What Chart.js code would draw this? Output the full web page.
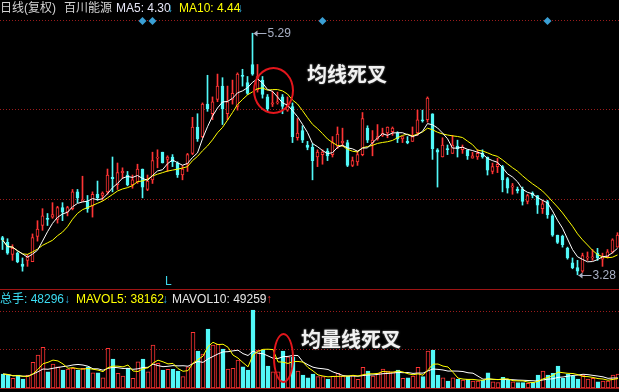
<!DOCTYPE html>
<html>
<head>
<meta charset="utf-8">
<script src="https://cdn.jsdelivr.net/npm/chart.js@4.4.1/dist/chart.umd.min.js"></script>
<style>
  html, body { margin: 0; padding: 0; background: #000; }
  #wrap { position: relative; width: 619px; height: 392px; overflow: hidden; background: #000;
          font-family: "Liberation Sans", "Noto Sans CJK SC", sans-serif; }
  canvas { position: absolute; left: 0; }
  .t { position: absolute; font-size: 12px; line-height: 14px; white-space: nowrap; }
  .note { position: absolute; font-family: "Noto Sans CJK SC", sans-serif; font-weight: bold;
          font-size: 20px; line-height: 24px; color: #f2f2f2; text-shadow: 0 0 2px #8a8a8a; white-space: nowrap; }
  .ring { position: absolute; box-sizing: border-box; border: 2px solid #e3161c; border-radius: 50%; }
</style>
</head>
<body>
<div id="wrap">
  <canvas id="main" width="620" height="290" style="top:0"></canvas>
  <canvas id="vol" width="621" height="102" style="top:290px"></canvas>

  <div class="t" style="left:0;top:1px;color:#d4d4d4">日线(复权)</div>
  <div class="t" style="left:64px;top:1px;color:#d4d4d4">百川能源</div>
  <div class="t" style="left:116px;top:1px;color:#e6e6f6">MA5: 4.30</div>
  <div class="t" style="left:167px;top:1px;color:#2aa6d6">↓</div>
  <div class="t" style="left:179px;top:1px;color:#ffff00">MA10: 4.44</div>
  <div class="t" style="left:237px;top:1px;color:#2aa6d6">↓</div>

  <div class="t" style="left:0;top:292px;color:#3cdcf2">总手: 48296</div>
  <div class="t" style="left:64px;top:292px;color:#2aa6d6">↓</div>
  <div class="t" style="left:76px;top:292px;color:#ffff00">MAVOL5: 38162</div>
  <div class="t" style="left:162px;top:292px;color:#2aa6d6">↓</div>
  <div class="t" style="left:172px;top:292px;color:#e6e6e6">MAVOL10: 49259</div>
  <div class="t" style="left:266px;top:292px;color:#e82020">↑</div>

  <div class="t" style="left:165px;top:274px;color:#3cd6ea">L</div>

  <div class="note" style="left:307px;top:62px">均线死叉</div>
  <div class="note" style="left:301px;top:327px">均量线死叉</div>
  <div class="ring" style="left:253px;top:67px;width:41px;height:47px"></div>
  <div class="ring" style="left:273px;top:333px;width:21px;height:50px"></div>
</div>

<script>
// daily candles, oldest first
const opens = [
  3.59, 3.55, 3.45, 3.46, 3.37, 3.40, 3.39, 3.60, 3.69, 3.75,
  3.76, 3.74, 3.84, 3.80, 3.83, 3.97, 3.89, 3.89, 3.85, 3.95,
  3.94, 3.97, 4.09, 4.03, 4.13, 4.11, 4.03, 4.05, 4.16, 3.99,
  4.07, 4.25, 4.30, 4.24, 4.26, 4.21, 4.11, 4.20, 4.29, 4.51,
  4.43, 4.70, 4.62, 4.74, 4.85, 4.62, 4.74, 4.68, 4.94, 4.88,
  5.03, 4.82, 4.90, 4.76, 4.70, 4.71, 4.76, 4.65, 4.68, 4.42,
  4.48, 4.36, 4.34, 4.26, 4.28, 4.31, 4.28, 4.35, 4.38, 4.38,
  4.19, 4.22, 4.28, 4.50, 4.38, 4.41, 4.44, 4.46, 4.47, 4.46,
  4.41, 4.39, 4.39, 4.46, 4.57, 4.57, 4.62, 4.32, 4.26, 4.33,
  4.29, 4.35, 4.32, 4.32, 4.25, 4.26, 4.29, 4.26, 4.14, 4.18,
  4.18, 4.08, 4.01, 3.99, 3.99, 3.89, 3.96, 3.94, 3.83, 3.89,
  3.77, 3.61, 3.60, 3.50, 3.38, 3.34, 3.31, 3.42, 3.42, 3.46,
  3.41, 3.43, 3.47, 3.51
];
const highs = [
  3.60, 3.58, 3.53, 3.47, 3.42, 3.45, 3.62, 3.73, 3.83, 3.79,
  3.88, 3.85, 3.88, 3.85, 3.99, 3.99, 4.10, 3.94, 3.97, 4.06,
  3.97, 4.16, 4.26, 4.21, 4.17, 4.14, 4.11, 4.20, 4.16, 4.11,
  4.30, 4.32, 4.30, 4.27, 4.28, 4.22, 4.19, 4.29, 4.59, 4.62,
  4.71, 4.94, 4.76, 4.95, 4.92, 4.85, 4.90, 4.96, 4.99, 4.93,
  5.29, 5.03, 4.93, 4.78, 4.81, 4.80, 4.78, 4.76, 4.71, 4.58,
  4.52, 4.39, 4.37, 4.32, 4.32, 4.33, 4.43, 4.51, 4.50, 4.40,
  4.26, 4.31, 4.63, 4.52, 4.48, 4.53, 4.50, 4.51, 4.51, 4.47,
  4.43, 4.43, 4.51, 4.65, 4.65, 4.76, 4.62, 4.33, 4.42, 4.36,
  4.44, 4.40, 4.36, 4.32, 4.30, 4.32, 4.32, 4.26, 4.21, 4.25,
  4.19, 4.09, 4.04, 4.01, 4.01, 3.95, 3.97, 3.94, 3.90, 3.90,
  3.78, 3.61, 3.61, 3.51, 3.42, 3.40, 3.46, 3.47, 3.49, 3.50,
  3.46, 3.49, 3.58, 3.63
];
const lows = [
  3.49, 3.45, 3.40, 3.38, 3.31, 3.35, 3.39, 3.56, 3.65, 3.69,
  3.75, 3.71, 3.73, 3.77, 3.82, 3.88, 3.89, 3.80, 3.76, 3.90,
  3.90, 3.95, 3.97, 3.99, 4.08, 4.02, 4.00, 4.04, 3.92, 3.98,
  4.04, 4.17, 4.21, 4.14, 4.18, 4.09, 4.07, 4.14, 4.28, 4.39,
  4.42, 4.64, 4.57, 4.72, 4.53, 4.57, 4.70, 4.65, 4.85, 4.78,
  4.94, 4.80, 4.75, 4.64, 4.68, 4.70, 4.62, 4.64, 4.38, 4.40,
  4.38, 4.32, 4.07, 4.18, 4.20, 4.23, 4.26, 4.33, 4.35, 4.18,
  4.18, 4.19, 4.27, 4.38, 4.27, 4.40, 4.43, 4.42, 4.44, 4.38,
  4.38, 4.37, 4.39, 4.44, 4.55, 4.55, 4.24, 4.01, 4.26, 4.28,
  4.29, 4.26, 4.29, 4.24, 4.25, 4.24, 4.25, 4.11, 4.12, 4.13,
  3.97, 3.96, 3.95, 3.96, 3.86, 3.87, 3.92, 3.79, 3.79, 3.75,
  3.60, 3.54, 3.51, 3.41, 3.33, 3.28, 3.30, 3.40, 3.40, 3.40,
  3.35, 3.42, 3.46, 3.51
];
const closes = [
  3.57, 3.46, 3.50, 3.39, 3.35, 3.43, 3.59, 3.66, 3.77, 3.74,
  3.78, 3.84, 3.80, 3.84, 3.97, 3.92, 3.90, 3.83, 3.95, 3.92,
  3.96, 4.11, 4.08, 4.13, 4.14, 4.03, 4.07, 4.16, 4.01, 4.06,
  4.23, 4.26, 4.21, 4.26, 4.22, 4.11, 4.16, 4.28, 4.51, 4.41,
  4.70, 4.66, 4.72, 4.85, 4.66, 4.72, 4.79, 4.95, 4.93, 4.79,
  4.95, 4.93, 4.78, 4.66, 4.71, 4.72, 4.68, 4.69, 4.43, 4.46,
  4.40, 4.34, 4.23, 4.30, 4.30, 4.27, 4.38, 4.45, 4.39, 4.19,
  4.23, 4.28, 4.58, 4.40, 4.40, 4.43, 4.46, 4.51, 4.50, 4.41,
  4.43, 4.38, 4.43, 4.57, 4.56, 4.75, 4.33, 4.30, 4.36, 4.32,
  4.36, 4.33, 4.34, 4.27, 4.27, 4.29, 4.26, 4.15, 4.18, 4.20,
  4.07, 4.00, 4.02, 3.98, 3.89, 3.94, 3.94, 3.86, 3.87, 3.78,
  3.61, 3.55, 3.53, 3.42, 3.34, 3.31, 3.44, 3.43, 3.43, 3.42,
  3.43, 3.47, 3.57, 3.61
];
// 总手
const volumes = [
  48300, 44850, 33500, 44850, 31050, 44850, 88700, 113850, 140400, 56200,
  82800, 73500, 62100, 65550, 68000, 62100, 68000, 73500, 52800, 52800,
  35500, 137000, 100000, 50700, 41400, 68000, 33500, 90700, 100000, 56200,
  148350, 85200, 62100, 64500, 64500, 58650, 39000, 73500, 192200, 127650,
  117300, 203550, 148350, 151800, 134550, 65550, 68000, 96600, 73500, 62100,
  269100, 131100, 131100, 75900, 56200, 56200, 127650, 108000, 108000, 58650,
  44850, 35000, 48300, 39000, 39000, 31050, 41400, 50700, 41400, 41400,
  43800, 30000, 71400, 58650, 41400, 50700, 65550, 58650, 56200, 62100,
  33500, 35500, 41400, 71400, 39000, 127650, 131100, 44850, 35500, 24150,
  35500, 31050, 27600, 30000, 24150, 24150, 27600, 52800, 21700, 18300,
  36900, 27600, 21700, 18300, 18300, 16200, 18300, 44850, 58650, 44850,
  50700, 75900, 33500, 48300, 41400, 31050, 44850, 31050, 33500, 21700,
  24150, 24150, 44850, 48296
];
const markerDays = [28, 30, 64, 109];
const priceGrid = [5.40, 4.657, 3.913];
const volGrid = [133000, 266000];

const days = opens.map((_, i) => i);
const upColor = '#ff3434';
const downColor = '#52f8f8';
const gridColor = '#9a1c1c';
const isUp = closes.map((c, i) => c >= opens[i]);

function movingAverage(values, n) {
  return values.map((v, i) => {
    const win = values.slice(Math.max(0, i - n + 1), i + 1);
    return win.reduce((a, b) => a + b, 0) / win.length;
  });
}

const gridPlugin = {
  id: 'dotGrid',
  beforeDatasetsDraw(chart, args, opts) {
    const { ctx, scales: { y } } = chart;
    ctx.save();
    ctx.strokeStyle = gridColor;
    ctx.lineWidth = 1;
    ctx.setLineDash([1, 2]);
    opts.values.forEach(v => {
      const py = Math.round(y.getPixelForValue(v)) + 0.5;
      ctx.beginPath();
      ctx.moveTo(0, py);
      ctx.lineTo(chart.width, py);
      ctx.stroke();
    });
    ctx.setLineDash([]);
    ctx.strokeStyle = '#a01414';
    const by = Math.round(opts.bottomLine) + 0.5;
    ctx.beginPath();
    ctx.moveTo(0, by);
    ctx.lineTo(chart.width, by);
    ctx.stroke();
    ctx.restore();
  }
};

function drawTag(ctx, px, py, text) {
  const y = Math.round(py) + 0.5;
  ctx.strokeStyle = '#a8b0c4';
  ctx.fillStyle = '#a8b0c4';
  ctx.lineWidth = 1;
  ctx.beginPath();
  ctx.moveTo(px + 1, y);
  ctx.lineTo(px + 14, y);
  ctx.stroke();
  ctx.beginPath();
  ctx.moveTo(px + 1, y);
  ctx.lineTo(px + 5, y - 3);
  ctx.lineTo(px + 5, y + 3);
  ctx.closePath();
  ctx.fill();
  ctx.font = '12px "Liberation Sans"';
  ctx.textBaseline = 'middle';
  ctx.fillText(text, px + 15, y);
}

const marksPlugin = {
  id: 'marks',
  afterDatasetsDraw(chart) {
    const { ctx, chartArea, scales: { x, y } } = chart;
    ctx.save();
    const hi = highs.indexOf(Math.max(...highs));
    const lo = lows.indexOf(Math.min(...lows));
    drawTag(ctx, x.getPixelForValue(hi), y.getPixelForValue(highs[hi]), highs[hi].toFixed(2));
    drawTag(ctx, x.getPixelForValue(lo), y.getPixelForValue(lows[lo]), lows[lo].toFixed(2));
    ctx.fillStyle = '#3a9fd4';
    markerDays.forEach(d => {
      const cx = x.getPixelForValue(d), cy = chartArea.top + 1;
      ctx.beginPath();
      ctx.moveTo(cx, cy - 4);
      ctx.lineTo(cx + 4, cy);
      ctx.lineTo(cx, cy + 4);
      ctx.lineTo(cx - 4, cy);
      ctx.closePath();
      ctx.fill();
    });
    ctx.restore();
  }
};

const baseOptions = {
  responsive: false,
  animation: false,
  events: [],
  devicePixelRatio: 1,
  plugins: { legend: { display: false }, tooltip: { enabled: false } }
};

new Chart(document.getElementById('main'), {
  type: 'bar',
  data: {
    labels: days,
    datasets: [
      { type: 'line', label: 'MA5', data: movingAverage(closes, 5), borderColor: '#ffffff',
        borderWidth: 1, pointRadius: 0, tension: 0, order: 0 },
      { type: 'line', label: 'MA10', data: movingAverage(closes, 10), borderColor: '#ffff00',
        borderWidth: 1, pointRadius: 0, tension: 0, order: 0 },
      { label: 'body', data: opens.map((o, i) => [o, closes[i]]),
        backgroundColor: isUp.map(u => u ? '#000000' : downColor),
        borderColor: isUp.map(u => u ? upColor : downColor),
        borderWidth: 1, borderSkipped: false, barThickness: 3, grouped: false, order: 1 },
      { label: 'wick', data: lows.map((l, i) => [l, highs[i]]),
        backgroundColor: isUp.map(u => u ? upColor : downColor),
        borderWidth: 0, barThickness: 1, grouped: false, order: 2 }
    ]
  },
  options: {
    ...baseOptions,
    layout: { padding: { top: 20, bottom: 2, left: 0, right: 0 } },
    plugins: { ...baseOptions.plugins, dotGrid: { values: priceGrid, bottomLine: 289 } },
    scales: {
      x: { display: false, offset: true },
      y: { display: false, min: 3.17, max: 5.40 }
    }
  },
  plugins: [gridPlugin, marksPlugin]
});

new Chart(document.getElementById('vol'), {
  type: 'bar',
  data: {
    labels: days,
    datasets: [
      { type: 'line', label: 'MAVOL5', data: movingAverage(volumes, 5), borderColor: '#ffff00',
        borderWidth: 1, pointRadius: 0, tension: 0, order: 0 },
      { type: 'line', label: 'MAVOL10', data: movingAverage(volumes, 10), borderColor: '#ffffff',
        borderWidth: 1, pointRadius: 0, tension: 0, order: 0 },
      { label: '总手', data: volumes,
        backgroundColor: isUp.map(u => u ? '#000000' : downColor),
        borderColor: isUp.map(u => u ? upColor : downColor),
        borderWidth: 1, borderSkipped: false, barThickness: 4, order: 1 }
    ]
  },
  options: {
    ...baseOptions,
    layout: { padding: { top: 14, bottom: 4, left: 0.5, right: 0.5 } },
    plugins: { ...baseOptions.plugins, dotGrid: { values: volGrid, bottomLine: 98 } },
    scales: {
      x: { display: false, offset: true },
      y: { display: false, min: 0, max: 290000 }
    }
  },
  plugins: [gridPlugin]
});
</script>
</body>
</html>
